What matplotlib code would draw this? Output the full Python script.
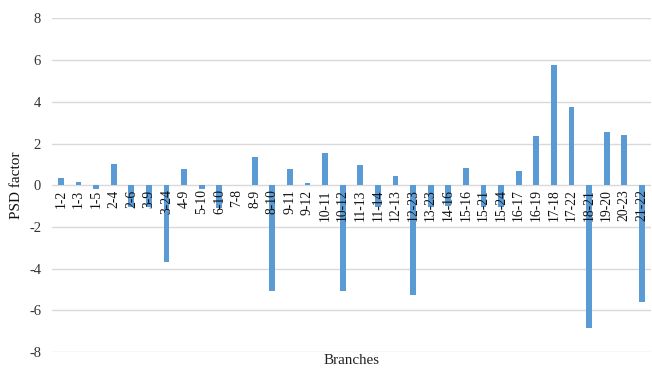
import numpy as np
import matplotlib.pyplot as plt

plt.rcParams['font.family'] = ['Liberation Serif', 'DejaVu Serif']

# 支路名稱與 PSD 因子
branches = ["1-2", "1-3", "1-5", "2-4", "2-6", "3-9", "3-24", "4-9", "5-10", "6-10",
            "7-8", "8-9", "8-10", "9-11", "9-12", "10-11", "10-12", "11-13", "11-14",
            "12-13", "12-23", "13-23", "14-16", "15-16", "15-21", "15-24", "16-17",
            "16-19", "17-18", "17-22", "18-21", "19-20", "20-23", "21-22"]
psd = [0.36, 0.15, -0.2, 1.04, -1.05, -1.05, -3.67, 0.8, -0.2, -1.1,
       0.0, 1.37, -5.05, 0.77, 0.1, 1.55, -5.05, 0.97, -1.05,
       0.45, -5.26, -1.02, -1.0, 0.83, -1.05, -1.05, 0.67,
       2.38, 5.77, 3.73, -6.84, 2.57, 2.42, -5.6]
yticks = [-8, -6, -4, -2, 0, 2, 4, 6, 8]

text_color = '#333333'
x = np.arange(len(branches))

fig = plt.figure(figsize=(6.52, 3.69), dpi=100)
ax = fig.add_axes([0.080, 0.046, 0.918, 0.904])

ax.bar(x, psd, width=0.33, color='#5B9BD5', zorder=2)

ax.set_xlim(-0.5, len(branches) - 0.5)
ax.set_ylim(-8, 8)
ax.set_yticks(yticks)
ax.set_yticklabels([str(v) for v in yticks])
ax.yaxis.grid(True, color='#d9d9d9', linewidth=1.0, zorder=0)
ax.set_axisbelow(True)

for s in ['top', 'right', 'left', 'bottom']:
    ax.spines[s].set_visible(False)
ax.set_xticks([])
ax.tick_params(axis='y', length=0, pad=8, labelsize=10.5, labelcolor=text_color)

# 類別標籤放在 0 線下方，壓在長條上面
for xi, name in zip(x, branches):
    ax.annotate(name, (xi, 0), xytext=(0, -3), textcoords='offset points',
                rotation=90, ha='center', va='top', fontsize=9.8,
                color='#111111', zorder=3)

ax.set_ylabel('PSD factor', fontsize=11, color='#111111', labelpad=4)
fig.text(0.539, 0.005, 'Branches', fontsize=10.8, color='#222222', ha='center', va='bottom')

plt.savefig('out.png', dpi=100)
